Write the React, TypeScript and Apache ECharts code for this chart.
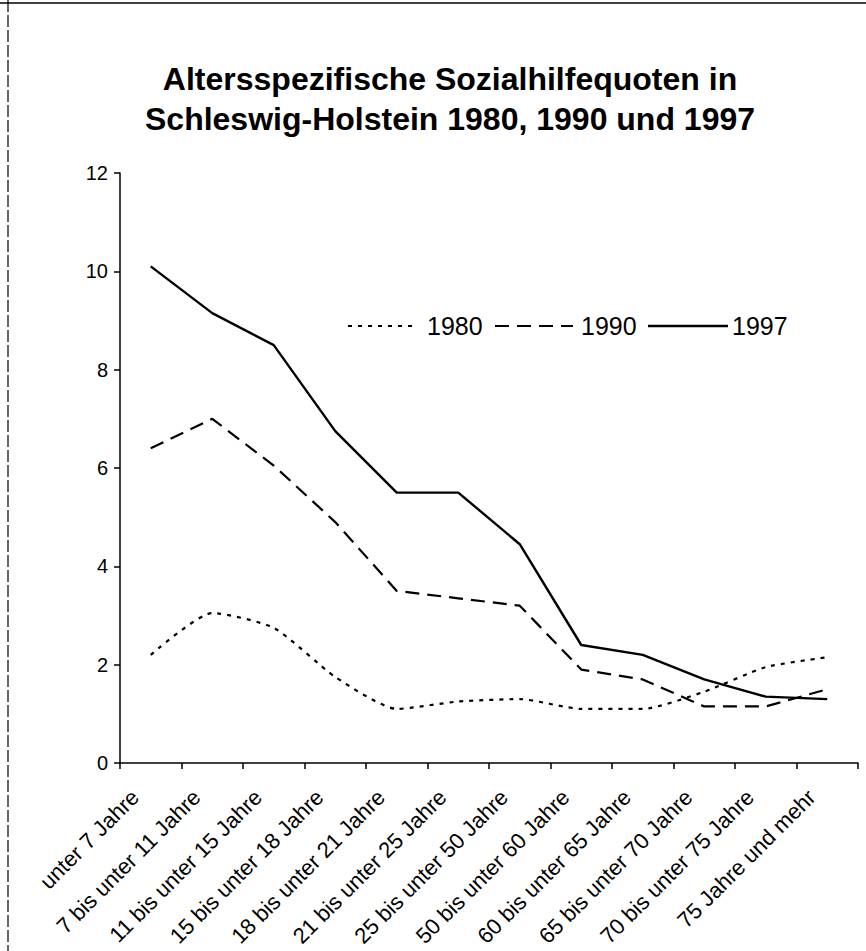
import React, { useEffect, useRef } from "react";
import * as echarts from "echarts";

const categories = [
  "unter 7 Jahre",
  "7 bis unter 11 Jahre",
  "11 bis unter 15 Jahre",
  "15 bis unter 18 Jahre",
  "18 bis unter 21 Jahre",
  "21 bis unter 25 Jahre",
  "25 bis unter 50 Jahre",
  "50 bis unter 60 Jahre",
  "60 bis unter 65 Jahre",
  "65 bis unter 70 Jahre",
  "70 bis unter 75 Jahre",
  "75 Jahre und mehr",
];

const seriesNames = ["1980", "1990", "1997"];
const values1980 = [2.2, 3.05, 2.75, 1.75, 1.1, 1.25, 1.3, 1.1, 1.1, 1.45, 1.95, 2.15];
const values1990 = [6.4, 7.0, 6.05, 4.9, 3.5, 3.35, 3.2, 1.9, 1.7, 1.15, 1.15, 1.5];
const values1997 = [10.1, 9.15, 8.5, 6.75, 5.5, 5.5, 4.45, 2.4, 2.2, 1.7, 1.35, 1.3];

const titleLines = ["Altersspezifische Sozialhilfequoten in", "Schleswig-Holstein 1980, 1990 und 1997"];

const FONT = "'Liberation Sans', Arial, sans-serif";

const dash1980 = [4, 6];
const dash1990 = [14, 8];

export default function App() {
  const ref = useRef<HTMLDivElement>(null);

  useEffect(() => {
    if (!ref.current) return;
    const chart = echarts.init(ref.current, null, { renderer: "svg" });

    // legend drawn manually: line sample followed by label
    const legendY = 326;
    const legendLayout = [
      { x1: 348, x2: 418, tx: 427, dash: dash1980, w: 2.2 },
      { x1: 495, x2: 573, tx: 581, dash: dash1990, w: 2.2 },
      { x1: 648, x2: 728, tx: 732, dash: null, w: 2.4 },
    ];
    const legendGraphics: any[] = [];
    seriesNames.forEach((name, i) => {
      const l = legendLayout[i];
      legendGraphics.push({
        type: "line",
        shape: { x1: l.x1, y1: legendY, x2: l.x2, y2: legendY },
        style: { stroke: "#000", lineWidth: l.w, lineDash: l.dash || undefined },
      });
      legendGraphics.push({
        type: "text",
        x: l.tx,
        y: legendY,
        style: {
          text: name,
          fontFamily: FONT,
          fontSize: 25,
          fill: "#000",
          verticalAlign: "middle",
          align: "left",
        },
      });
    });

    chart.setOption({
      animation: false,
      backgroundColor: "#ffffff",
      title: {
        text: titleLines.join("\n"),
        left: 445,
        top: 54,
        textAlign: "center",
        textStyle: {
          fontFamily: FONT,
          fontSize: 32,
          fontWeight: "bold",
          color: "#000",
          lineHeight: 40,
        },
      },
      grid: {
        left: 120,
        right: 8,
        top: 173,
        bottom: 188,
        containLabel: false,
      },
      xAxis: {
        type: "category",
        data: categories,
        boundaryGap: true,
        axisLine: { lineStyle: { color: "#000", width: 1.5 } },
        axisTick: { show: true, length: 6, alignWithLabel: false, lineStyle: { color: "#000", width: 1.5 } },
        axisLabel: {
          interval: 0,
          rotate: 45,
          margin: 15,
          fontFamily: FONT,
          fontSize: 22,
          color: "#000",
          padding: [0, 22, 0, 0],
        },
        splitLine: { show: false },
      },
      yAxis: {
        type: "value",
        min: 0,
        max: 12,
        interval: 2,
        axisLine: { show: true, lineStyle: { color: "#000", width: 1.5 } },
        axisTick: { show: true, length: 6, lineStyle: { color: "#000", width: 1.5 } },
        axisLabel: {
          fontFamily: FONT,
          fontSize: 20,
          color: "#000",
          margin: 12,
        },
        splitLine: { show: false },
      },
      graphic: [
        { type: "line", shape: { x1: 0, y1: 3, x2: 866, y2: 3 }, style: { stroke: "#000", lineWidth: 1.5 } },
        { type: "line", shape: { x1: 8, y1: 0, x2: 8, y2: 951 }, style: { stroke: "#000", lineWidth: 1.2, lineDash: [12, 3] } },
        ...legendGraphics,
      ],
      series: [
        {
          name: seriesNames[0],
          type: "line",
          data: values1980,
          showSymbol: false,
          symbol: "none",
          smooth: 0.2,
          lineStyle: { color: "#000", width: 2.2, type: dash1980 },
          itemStyle: { color: "#000" },
        },
        {
          name: seriesNames[1],
          type: "line",
          data: values1990,
          showSymbol: false,
          symbol: "none",
          lineStyle: { color: "#000", width: 2.2, type: dash1990 },
          itemStyle: { color: "#000" },
        },
        {
          name: seriesNames[2],
          type: "line",
          data: values1997,
          showSymbol: false,
          symbol: "none",
          lineStyle: { color: "#000", width: 2.4, type: "solid" },
          itemStyle: { color: "#000" },
        },
      ],
    });
    return () => chart.dispose();
  }, []);

  return (
    <div
      ref={ref}
      style={{ position: "absolute", left: 0, top: 0, width: 866, height: 951 }}
    />
  );
}
